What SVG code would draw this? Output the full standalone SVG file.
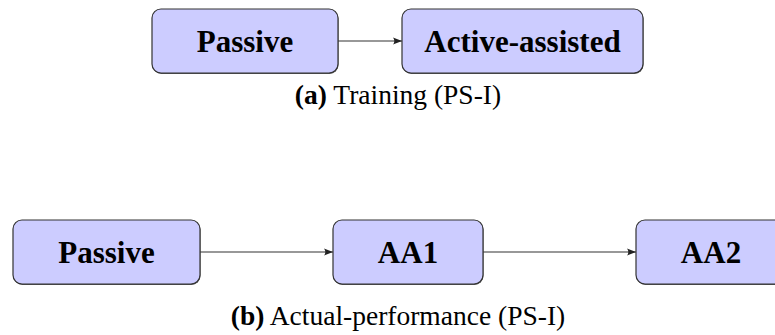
<svg xmlns="http://www.w3.org/2000/svg" width="775" height="335" viewBox="0 0 775 335">
<defs>
<marker id="arr" viewBox="0 0 10 10" refX="10" refY="5" markerWidth="9" markerHeight="9" markerUnits="userSpaceOnUse" orient="auto">
<path d="M0,1 Q3,5 0,9 L10,5 Z" fill="#222"/>
</marker>
</defs>
<style>
.box{fill:#ccccff;stroke:#333;stroke-width:1.2}
.shd{fill:#555;stroke:none}
.lbl{font-family:"Liberation Serif","Times New Roman",serif;font-weight:bold;font-size:31px;fill:#000;text-anchor:middle}
.cap{font-family:"Liberation Serif","Times New Roman",serif;font-size:27.5px;fill:#000;text-anchor:middle}
.edge{stroke:#333;stroke-width:1.2;fill:none;marker-end:url(#arr)}
</style>
<rect width="775" height="335" fill="#fff"/>
<g id="connectors">
<line class="edge" x1="338" y1="41" x2="402" y2="41"/>
<line class="edge" x1="200" y1="252" x2="333" y2="252"/>
<line class="edge" x1="483" y1="252" x2="636" y2="252"/>
</g>
<g id="a-passive"><rect class="shd" x="152.5" y="10" width="186" height="64" rx="9"/><rect class="box" x="152" y="9" width="186" height="64" rx="9"/><text class="lbl" x="245" y="52">Passive</text></g>
<g id="a-active"><rect class="shd" x="402.5" y="10" width="241" height="64" rx="9"/><rect class="box" x="402" y="9" width="241" height="64" rx="9"/><text class="lbl" x="522.5" y="52">Active-assisted</text></g>
<text class="cap" x="398" y="104"><tspan font-weight="bold">(a)</tspan> Training (PS-I)</text>
<g id="b-passive"><rect class="shd" x="13.5" y="221" width="187" height="64" rx="9"/><rect class="box" x="13" y="220" width="187" height="64" rx="9"/><text class="lbl" x="106.5" y="263">Passive</text></g>
<g id="b-aa1"><rect class="shd" x="333.5" y="221" width="150" height="64" rx="9"/><rect class="box" x="333" y="220" width="150" height="64" rx="9"/><text class="lbl" x="408" y="263">AA1</text></g>
<g id="b-aa2"><rect class="shd" x="636.5" y="221" width="150" height="64" rx="9"/><rect class="box" x="636" y="220" width="150" height="64" rx="9"/><text class="lbl" x="711" y="263">AA2</text></g>
<text class="cap" x="398" y="325"><tspan font-weight="bold">(b)</tspan> Actual-performance (PS-I)</text>
</svg>
